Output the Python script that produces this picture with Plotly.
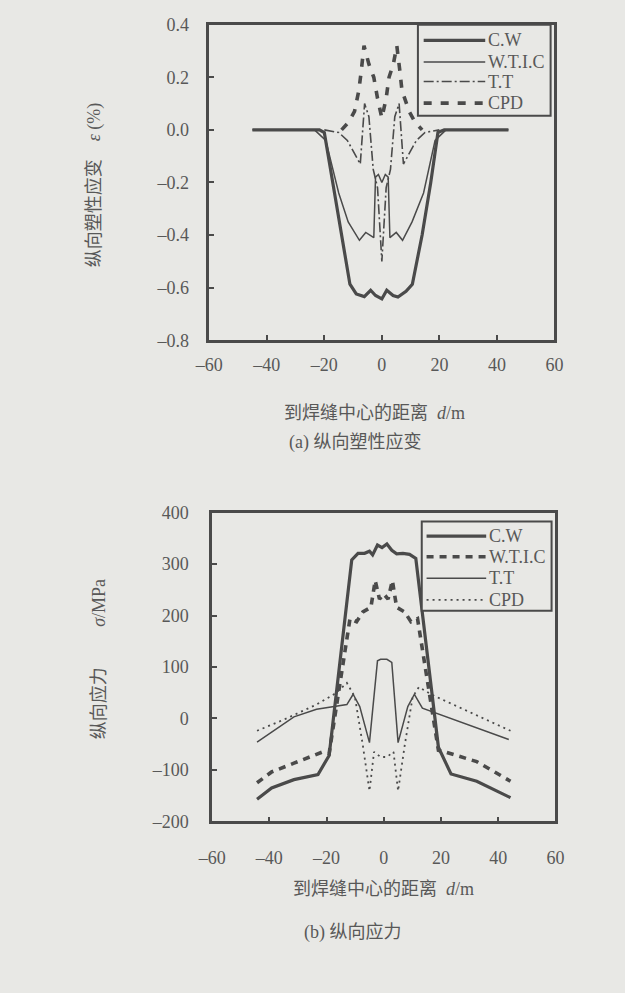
import plotly.graph_objects as go

# ---- (a) longitudinal plastic strain, % ----
cw_a_x = [-45, -21.7, -20, -17, -14, -11.1, -8.9, -6.1, -3.9, -2.2, 0, 1.7, 3.9, 5.6, 8.4, 10.6, 14, 17, 19.5, 21.7, 44]
cw_a_y = [0, 0, -0.01, -0.20, -0.40, -0.587, -0.624, -0.634, -0.61, -0.63, -0.643, -0.61, -0.63, -0.636, -0.614, -0.587, -0.40, -0.20, -0.01, 0, 0]

wtic_a_x = [-45, -23.4, -19.5, -15, -11.7, -7.8, -5.6, -2.8, -2.2, -1.2, 0, 1.2, 2.2, 2.8, 5.0, 7.2, 10.5, 14.5, 18.5, 22.3, 44]
wtic_a_y = [0, 0, -0.04, -0.24, -0.35, -0.42, -0.39, -0.41, -0.18, -0.17, -0.20, -0.17, -0.18, -0.41, -0.39, -0.42, -0.35, -0.24, -0.04, 0, 0]

tt_a_x = [-20, -15, -12, -9, -7.5, -6, -4.5, -3, -1.5, 0, 1.5, 3, 4.5, 6, 7.5, 9, 12, 15, 20]
tt_a_y = [0, -0.01, -0.04, -0.10, -0.13, 0.10, 0.05, -0.15, -0.22, -0.50, -0.22, -0.15, 0.05, 0.10, -0.13, -0.10, -0.04, -0.01, 0]

cpd_a_x = [-14, -11.5, -9.5, -8, -7.2, -6.2, -4.5, -2.8, -1.5, 0, 1.5, 2.5, 4, 5.2, 6.2, 7, 9.5, 11.5, 14]
cpd_a_y = [0, 0.03, 0.07, 0.15, 0.22, 0.32, 0.25, 0.20, 0.12, 0.045, 0.12, 0.20, 0.25, 0.32, 0.23, 0.15, 0.07, 0.03, 0]

# ---- (b) longitudinal stress, MPa ----
cw_b_x = [-44.3, -39.2, -31.4, -23, -19.1, -11.2, -9.0, -6.7, -5.0, -3.9, -2.2, -0.6, 1.1, 2.8, 4.5, 6.7, 9.0, 11.2, 19.1, 23.5, 32.5, 44.3]
cw_b_y = [-157, -135, -119, -109, -72, 308, 321, 321, 325, 318, 337, 332, 339, 327, 320, 321, 319, 311, -56, -108, -122, -154]

wtic_b_x = [-44.3, -39.2, -31.4, -21.3, -19.1, -11.8, -9.5, -7.3, -4.5, -3.0, -1.5, 0, 1.5, 3.0, 4.5, 7.3, 9.5, 11.8, 19.1, 21.3, 32.5, 44.3]
wtic_b_y = [-125, -104, -87, -65, -68, 194, 188, 207, 216, 268, 232, 242, 232, 268, 216, 207, 188, 194, -62, -65, -84, -122]

tt_b_x = [-44.3, -31.4, -23.5, -12.9, -10.7, -8.4, -5.0, -2.2, -1.1, 1.1, 2.8, 5.0, 8.4, 10.7, 13.5, 21.3, 43.7]
tt_b_y = [-46, 3, 18, 27, 47, 23, -47, 112, 115, 115, 109, -47, 23, 47, 20, 4, -41]

cpd_b_x = [-44.3, -34.8, -23.5, -16.8, -12.9, -10.1, -7.3, -5.0, -3.4, -1.1, 1.1, 3.4, 5.0, 7.3, 10.1, 12.3, 16.8, 28, 39.2, 44.3]
cpd_b_y = [-24, -2, 27, 49, 69, 42, -53, -141, -65, -75, -75, -65, -141, -53, 42, 61, 46, 17, -11, -24]

names_a = ["C.W", "W.T.I.C", "T.T", "CPD"]
names_b = ["C.W", "W.T.I.C", "T.T", "CPD"]

x_ticks = [-60, -40, -20, 0, 20, 40, 60]
x_ticktext = ["–60", "–40", "–20", "0", "20", "40", "60"]
ya_ticks = [0.4, 0.2, 0.0, -0.2, -0.4, -0.6, -0.8]
ya_ticktext = ["0.4", "0.2", "0.0", "–0.2", "–0.4", "–0.6", "–0.8"]
yb_ticks = [400, 300, 200, 100, 0, -100, -200]
yb_ticktext = ["400", "300", "200", "100", "0", "–100", "–200"]

INK = "#4a4a4a"
TXT = "#585858"
BG = "#e8e8e5"
FONT = "Liberation Serif, Noto Sans CJK SC, serif"

W, H = 625, 993

def px_x(p):
    return p / W

def px_y(p):
    return 1 - p / H

fig = go.Figure()

styles_a = [
    dict(color=INK, width=3.2),
    dict(color=INK, width=1.5),
    dict(color=INK, width=1.6, dash="10px,3px,2px,3px"),
    dict(color=INK, width=3.6, dash="8px,9px"),
]
series_a = [(cw_a_x, cw_a_y), (wtic_a_x, wtic_a_y), (tt_a_x, tt_a_y), (cpd_a_x, cpd_a_y)]
for (xs, ys), nm, st in zip(series_a, names_a, styles_a):
    fig.add_trace(go.Scatter(x=xs, y=ys, mode="lines", name=nm, line=st,
                             xaxis="x", yaxis="y", showlegend=False))

styles_b = [
    dict(color=INK, width=3.2),
    dict(color=INK, width=3.6, dash="7px,6px"),
    dict(color=INK, width=1.5),
    dict(color=INK, width=1.8, dash="2px,4px"),
]
series_b = [(cw_b_x, cw_b_y), (wtic_b_x, wtic_b_y), (tt_b_x, tt_b_y), (cpd_b_x, cpd_b_y)]
for (xs, ys), nm, st in zip(series_b, names_b, styles_b):
    fig.add_trace(go.Scatter(x=xs, y=ys, mode="lines", name=nm, line=st,
                             xaxis="x2", yaxis="y2", showlegend=False))

axis_common = dict(
    showline=True, linecolor=INK, linewidth=2.5, mirror=True,
    ticks="inside", ticklen=5, tickwidth=2, tickcolor=INK,
    showgrid=False, zeroline=False,
    tickfont=dict(family=FONT, size=18, color=TXT),
)

fig.update_layout(
    width=W, height=H,
    margin=dict(l=0, r=0, t=0, b=0),
    paper_bgcolor=BG, plot_bgcolor=BG,
    showlegend=False,
    xaxis=dict(domain=[px_x(202), px_x(561)], range=[-60, 60], tickvals=x_ticks,
               ticktext=x_ticktext, ticklabelstandoff=6, anchor="y", **axis_common),
    yaxis=dict(domain=[px_y(337), px_y(15)], range=[-0.8, 0.4], tickvals=ya_ticks,
               ticktext=ya_ticktext, ticklabelstandoff=14, anchor="x", **axis_common),
    xaxis2=dict(domain=[px_x(205), px_x(562)], range=[-60, 60], tickvals=x_ticks,
                ticktext=x_ticktext, ticklabelstandoff=18, anchor="y2", **axis_common),
    yaxis2=dict(domain=[px_y(828), px_y(513)], range=[-200, 400], tickvals=yb_ticks,
                ticktext=yb_ticktext, ticklabelstandoff=17, anchor="x2", **axis_common),
    font=dict(family=FONT, color=TXT),
)

# legend boxes with long line samples
def draw_legend(box, rows, line_x0, line_x1, text_x, styles, names):
    x0, y0, x1, y1 = box
    fig.add_shape(type="rect", xref="paper", yref="paper",
                  x0=px_x(x0), x1=px_x(x1), y0=px_y(y1), y1=px_y(y0),
                  line=dict(color=INK, width=2), fillcolor=BG, layer="above")
    for ry, st, nm in zip(rows, styles, names):
        fig.add_shape(type="line", xref="paper", yref="paper",
                      x0=px_x(line_x0), x1=px_x(line_x1), y0=px_y(ry), y1=px_y(ry),
                      line=st, layer="above")
        fig.add_annotation(xref="paper", yref="paper", x=px_x(text_x), y=px_y(ry),
                           text=nm, showarrow=False, xanchor="left", yanchor="middle",
                           font=dict(family=FONT, size=18, color=TXT))

draw_legend((419, 15, 557, 108), [31, 53, 73, 95], 425, 489, 490, styles_a, names_a)
draw_legend((423, 522, 558, 613), [537, 558, 580, 602], 428, 490, 491, styles_b, names_b)

label_font = dict(family=FONT, size=18, color=TXT)
annotations = [
    dict(text="纵向塑性应变    <i>ε</i> (%)", x=px_x(83), y=px_y(178), textangle=-90),
    dict(text="到焊缝中心的距离  <i>d</i>/m", x=px_x(374), y=px_y(411)),
    dict(text="(a) 纵向塑性应变", x=px_x(354), y=px_y(441)),
    dict(text="纵向应力         <i>σ</i>/MPa", x=px_x(87), y=px_y(663), textangle=-90),
    dict(text="到焊缝中心的距离  <i>d</i>/m", x=px_x(383), y=px_y(897)),
    dict(text="(b) 纵向应力", x=px_x(351), y=px_y(941)),
]
for a in annotations:
    fig.add_annotation(xref="paper", yref="paper", showarrow=False,
                       xanchor="center", yanchor="middle", font=label_font, **a)

fig.write_html("out.html")
